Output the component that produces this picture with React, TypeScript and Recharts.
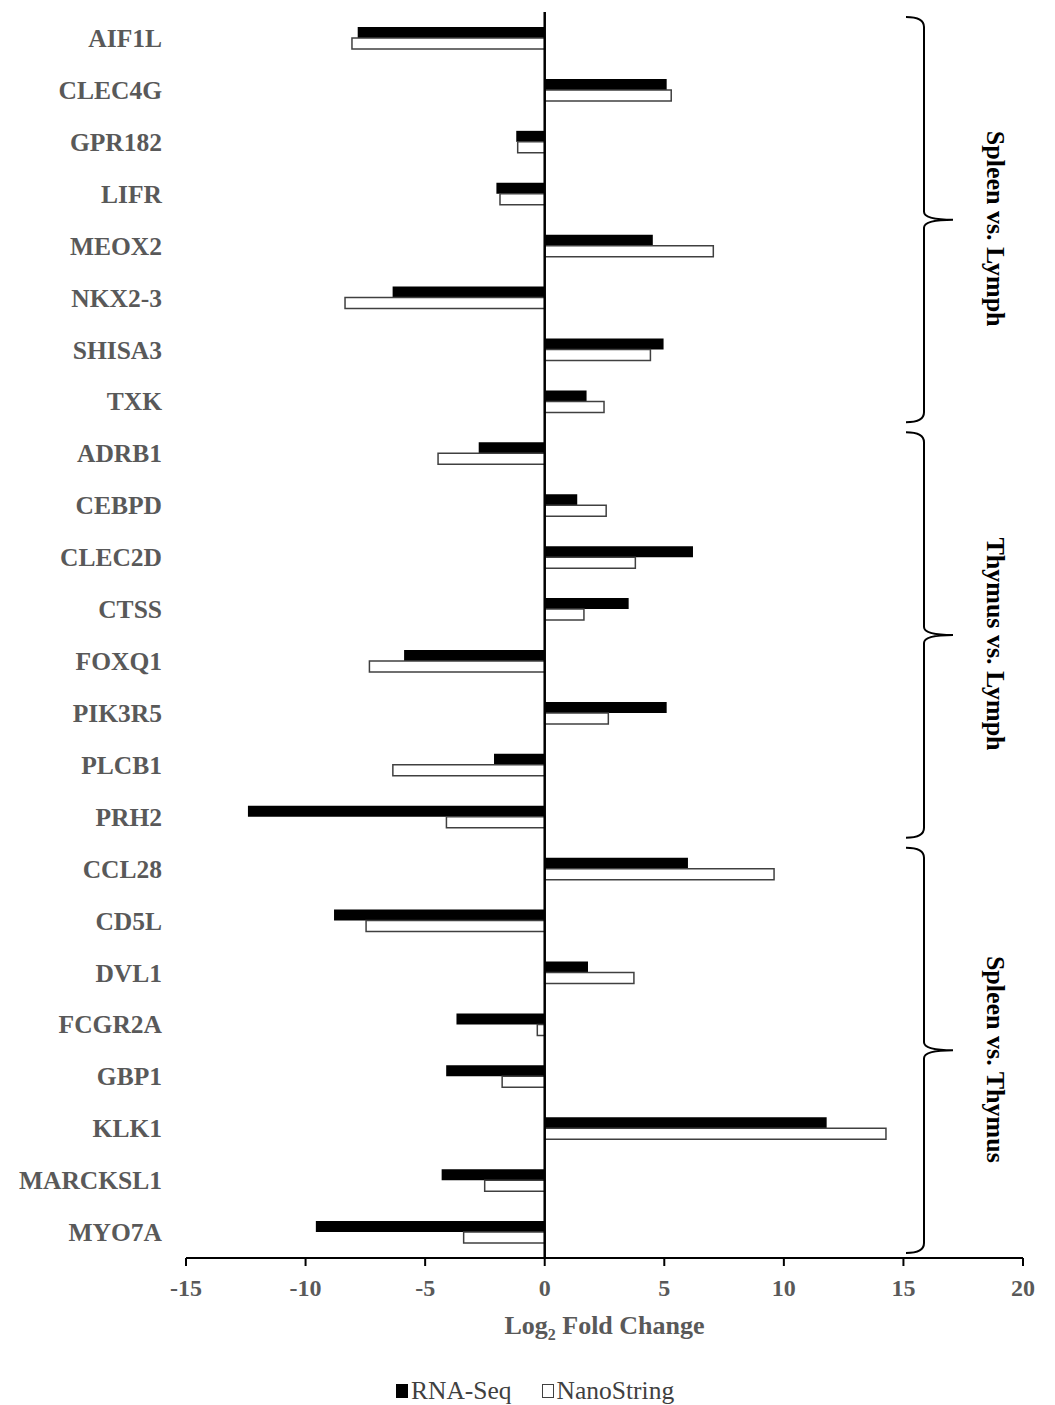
import { BarChart, Bar, XAxis, YAxis, ReferenceLine } from 'recharts';

const genes = [
  'AIF1L', 'CLEC4G', 'GPR182', 'LIFR', 'MEOX2', 'NKX2-3', 'SHISA3', 'TXK',
  'ADRB1', 'CEBPD', 'CLEC2D', 'CTSS', 'FOXQ1', 'PIK3R5', 'PLCB1', 'PRH2',
  'CCL28', 'CD5L', 'DVL1', 'FCGR2A', 'GBP1', 'KLK1', 'MARCKSL1', 'MYO7A',
];

const rnaSeq = [
  -7.82, 5.1, -1.19, -2.02, 4.52, -6.36, 4.97, 1.75,
  -2.76, 1.36, 6.2, 3.51, -5.88, 5.1, -2.12, -12.41,
  5.99, -8.81, 1.81, -3.69, -4.12, 11.79, -4.31, -9.57,
];

const nanoString = [
  -8.06, 5.29, -1.13, -1.87, 7.05, -8.35, 4.42, 2.48,
  -4.46, 2.57, 3.79, 1.64, -7.33, 2.66, -6.35, -4.11,
  9.59, -7.47, 3.73, -0.31, -1.78, 14.27, -2.51, -3.39,
];

const xTicks = [-15, -10, -5, 0, 5, 10, 15, 20];

const groupNames = ['Spleen vs. Lymph', 'Thymus vs. Lymph', 'Spleen vs. Thymus'];
const groupSizes = [8, 8, 8];

const seriesNames = ['RNA-Seq', 'NanoString'];

const data = genes.map((gene, i) => ({
  gene,
  rna: rnaSeq[i],
  nano: nanoString[i],
}));

// layout
const W = 1055;
const H = 1405;
const TOP = 12;
const AXIS_Y = 1258;
const LEFT = 186;
const RIGHT = 1023;
const X_AXIS_H = 90;
const BAND = (AXIS_Y - TOP) / genes.length;

const FONT = '"Liberation Serif", "Times New Roman", serif';
const GREY = '#595959';

function Brackets() {
  let start = 0;
  const items = groupNames.map((name, g) => {
    const s = start;
    const e = start + groupSizes[g];
    start = e;
    const y0 = TOP + s * BAND + 5;
    const y1 = TOP + e * BAND - 5;
    const ym = (y0 + y1) / 2;
    const ty = ym + 9;
    const xs = 906;
    const xv = 924;
    const xt = 953;
    const d =
      `M ${xs} ${y0} Q ${xv} ${y0} ${xv} ${y0 + 10} L ${xv} ${ym - 8} ` +
      `Q ${xv} ${ym} ${xt} ${ym} Q ${xv} ${ym} ${xv} ${ym + 8} ` +
      `L ${xv} ${y1 - 10} Q ${xv} ${y1} ${xs} ${y1}`;
    return (
      <g key={name}>
        <path d={d} fill="none" stroke="#000" strokeWidth={2} />
        <text
          x={995}
          y={ty}
          transform={`rotate(90 995 ${ty})`}
          textAnchor="middle"
          dominantBaseline="central"
          fontFamily={FONT}
          fontWeight="bold"
          fontSize={26}
          fill="#000"
        >
          {name}
        </text>
      </g>
    );
  });
  return (
    <svg width={W} height={H} style={{ position: 'absolute', left: 0, top: 0, pointerEvents: 'none' }}>
      {items}
      <text
        x={(LEFT + RIGHT) / 2}
        y={1334}
        textAnchor="middle"
        fontFamily={FONT}
        fontWeight="bold"
        fontSize={26}
        fill={GREY}
      >
        Log
        <tspan fontSize={16} dy={6}>2</tspan>
        <tspan dy={-6}> Fold Change</tspan>
      </text>
    </svg>
  );
}

function LegendBox() {
  return (
    <div
      style={{
        position: 'absolute',
        left: 396,
        top: 1376,
        display: 'flex',
        fontFamily: FONT,
        fontSize: 25.5,
        lineHeight: '30px',
        color: '#404040',
        gap: 30,
      }}
    >
      {seriesNames.map((n, i) => (
        <span key={n} style={{ display: 'flex', alignItems: 'center' }}>
          <span
            style={{
              display: 'inline-block',
              width: 12,
              height: 14,
              marginRight: 3,
              background: i === 0 ? '#000' : '#fff',
              border: i === 0 ? '1px solid #000' : '1px solid #404040',
              boxSizing: 'border-box',
            }}
          />
          {n}
        </span>
      ))}
    </div>
  );
}

export default function App() {
  return (
    <div style={{ position: 'absolute', left: 0, top: 0, width: W, height: H, background: '#fff' }}>
      <BarChart
        width={W}
        height={H}
        data={data}
        layout="vertical"
        margin={{ top: TOP, right: W - RIGHT, left: 0, bottom: H - AXIS_Y - X_AXIS_H }}
        barSize={11}
        barGap={0}
      >
        <XAxis
          type="number"
          domain={[-15, 20]}
          ticks={xTicks}
          allowDataOverflow
          height={X_AXIS_H}
          axisLine={{ stroke: '#000', strokeWidth: 2 }}
          tickLine={{ stroke: '#000', strokeWidth: 2 }}
          tickSize={8}
          tickMargin={13}
          tick={{ fill: GREY, fontFamily: FONT, fontWeight: 'bold', fontSize: 24 }}
        />
        <YAxis
          type="category"
          dataKey="gene"
          width={LEFT}
          interval={0}
          axisLine={false}
          tickLine={false}
          tickSize={0}
          tickMargin={24}
          tick={{ fill: GREY, fontFamily: FONT, fontWeight: 'bold', fontSize: 25.5 }}
        />
        <Bar dataKey="rna" name={seriesNames[0]} fill="#000" isAnimationActive={false} />
        <Bar
          dataKey="nano"
          name={seriesNames[1]}
          fill="#fff"
          stroke="#404040"
          strokeWidth={1.5}
          isAnimationActive={false}
        />
        <ReferenceLine x={0} stroke="#000" strokeWidth={2.5} />
      </BarChart>
      <Brackets />
      <LegendBox />
    </div>
  );
}
